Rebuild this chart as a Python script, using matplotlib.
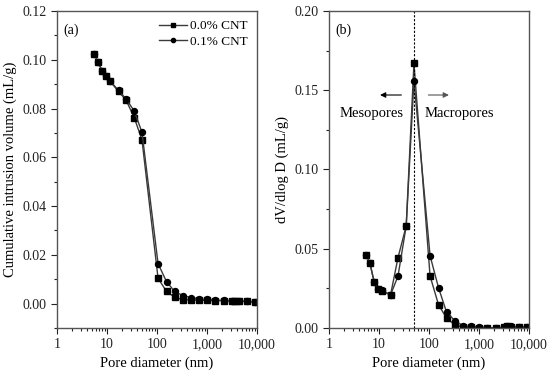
import matplotlib
matplotlib.use("Agg")
import matplotlib.pyplot as plt
from matplotlib.ticker import FixedLocator, FuncFormatter, MultipleLocator, LogLocator, NullFormatter

plt.rcParams['font.family'] = ['Liberation Serif', 'DejaVu Serif']
plt.rcParams['mathtext.fontset'] = 'stix'

# pore diameters (nm)
diam = [5.6, 6.6, 8.0, 9.5, 11.5, 17, 24, 35, 50, 105, 155, 225, 330, 475,
        700, 1000, 1450, 2150, 3150, 3700, 4300, 6300, 9300]

# (a) cumulative intrusion volume (mL/g)
cum_00 = [0.1025, 0.0990, 0.0955, 0.0932, 0.0912, 0.0870, 0.0835, 0.0763, 0.0672,
          0.0104, 0.0050, 0.0026, 0.0016, 0.0015, 0.0014, 0.0013, 0.0012, 0.0012,
          0.0011, 0.0011, 0.0010, 0.0009, 0.0007]
cum_01 = [0.1025, 0.0990, 0.0955, 0.0933, 0.0913, 0.0874, 0.0840, 0.0790, 0.0703,
          0.0164, 0.0090, 0.0050, 0.0033, 0.0025, 0.0019, 0.0017, 0.0015, 0.0013,
          0.0012, 0.0012, 0.0011, 0.0009, 0.0008]

# (b) dV/dlog D (mL/g)
dv_00 = [0.0462, 0.0408, 0.0290, 0.0244, 0.0233, 0.0208, 0.0444, 0.0644, 0.167,
         0.0328, 0.0147, 0.0061, 0.0020, 0.0005, 0.0004, 0.0003, 0.0002, 0.0001,
         0.0004, 0.0013, 0.0009, 0.0004, 0.0007]
dv_01 = [0.0462, 0.0408, 0.0290, 0.0244, 0.0240, 0.0208, 0.0328, 0.0644, 0.156,
         0.0456, 0.0254, 0.0099, 0.0046, 0.0015, 0.0010, 0.0008, 0.0003, 0.0000,
         0.0005, 0.0015, 0.0010, 0.0005, 0.0008]

x_ticks = [1, 10, 100, 1000, 10000]
x_labels = ['1', '10', '100', '1,000', '10,000']

fig = plt.figure(figsize=(5.5, 3.84), dpi=100)
ax1 = fig.add_axes([57/550, 56/384, 200/550, 317/384])
ax2 = fig.add_axes([329/550, 56/384, 200/550, 317/384])

line_c = '#3a3a3a'

def style_axis(ax):
    ax.set_xscale('log')
    ax.set_xlim(1, 10000)
    ax.xaxis.set_major_locator(FixedLocator(x_ticks))
    ax.set_xticklabels(x_labels)
    ax.xaxis.set_minor_locator(LogLocator(base=10, subs=range(2, 10), numticks=20))
    ax.xaxis.set_minor_formatter(NullFormatter())
    ax.tick_params(which='both', direction='out', labelsize=10, top=False, right=False,
                   colors='#222222', width=0.8)
    ax.tick_params(which='major', length=4)
    ax.tick_params(which='minor', length=2.2)
    for s in ax.spines.values():
        s.set_color('#555555')
        s.set_linewidth(1.0)
    ax.set_xlabel('Pore diameter (nm)', fontsize=10.5)

# (a)
ax1.plot(diam, cum_00, '-s', color=line_c, mfc='black', mec='black', ms=4.3, lw=1,
         label='0.0% CNT')
ax1.plot(diam, cum_01, '-o', color=line_c, mfc='black', mec='black', ms=4.3, lw=1,
         label='0.1% CNT')
style_axis(ax1)
ax1.set_ylim(-0.01, 0.12)
ax1.yaxis.set_major_locator(FixedLocator([0.0, 0.02, 0.04, 0.06, 0.08, 0.10, 0.12]))
ax1.yaxis.set_minor_locator(MultipleLocator(0.01))
ax1.yaxis.set_major_formatter(FuncFormatter(lambda v, p: f'{v:.2f}'))
ax1.set_ylabel('Cumulative intrusion volume (mL/g)', fontsize=10.5)
ax1.text(0.03, 0.96, '(a)', transform=ax1.transAxes, fontsize=10, va='top', ha='left')
ax1.legend(loc='upper right', frameon=False, fontsize=9.5, handlelength=2.1,
           handletextpad=0.25, borderaxespad=0.3, labelspacing=0.25, markerscale=0.7)

# (b)
ax2.plot(diam, dv_00, '-s', color=line_c, mfc='black', mec='black', ms=4.3, lw=1)
ax2.plot(diam, dv_01, '-o', color=line_c, mfc='black', mec='black', ms=4.3, lw=1)
style_axis(ax2)
ax2.set_ylim(0, 0.20)
ax2.yaxis.set_major_locator(MultipleLocator(0.05))
ax2.yaxis.set_minor_locator(MultipleLocator(0.025))
ax2.yaxis.set_major_formatter(FuncFormatter(lambda v, p: f'{v:.2f}'))
ax2.set_ylabel('dV/dlog D (mL/g)', fontsize=10.5)
ax2.text(0.03, 0.96, '(b)', transform=ax2.transAxes, fontsize=10, va='top', ha='left')
ax2.axvline(50, color='black', ls=(0, (2, 1.5)), lw=0.8)
ax2.annotate('', xy=(10.5, 0.147), xytext=(28, 0.147),
             arrowprops=dict(arrowstyle='-|>', color='black', lw=0.8, mutation_scale=8,
                             shrinkA=0, shrinkB=0))
ax2.annotate('', xy=(250, 0.147), xytext=(97, 0.147),
             arrowprops=dict(arrowstyle='-|>', color='#555555', lw=0.8, mutation_scale=8,
                             shrinkA=0, shrinkB=0))
ax2.text(7.1, 0.1356, 'Mesopores', ha='center', va='center', fontsize=10.5)
ax2.text(400, 0.1356, 'Macropores', ha='center', va='center', fontsize=10.5)

fig.savefig('out.png', dpi=100)
